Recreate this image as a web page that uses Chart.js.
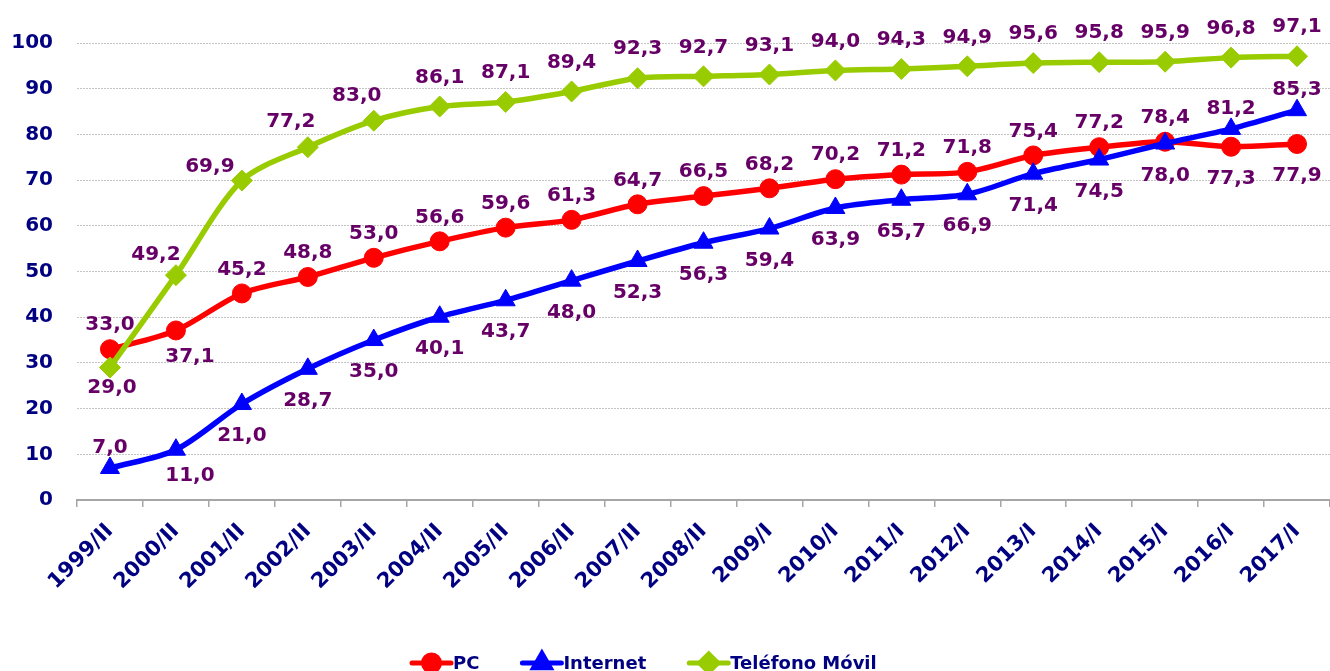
<!DOCTYPE html>
<html>
<head>
<meta charset="utf-8">
<script src="https://cdn.jsdelivr.net/npm/chart.js@4"></script>
<style>
  html, body { margin: 0; padding: 0; background: #fff; }
  #chart { display: block; }
</style>
</head>
<body>
<canvas id="chart" width="1330" height="671"></canvas>
<script>
const categories = ['1999/II','2000/II','2001/II','2002/II','2003/II','2004/II','2005/II','2006/II','2007/II','2008/II',
  '2009/I','2010/I','2011/I','2012/I','2013/I','2014/I','2015/I','2016/I','2017/I'];

const pcValues = [33.0, 37.1, 45.2, 48.8, 53.0, 56.6, 59.6, 61.3, 64.7, 66.5, 68.2, 70.2, 71.2, 71.8, 75.4, 77.2, 78.4, 77.3, 77.9];
const internetValues = [7.0, 11.0, 21.0, 28.7, 35.0, 40.1, 43.7, 48.0, 52.3, 56.3, 59.4, 63.9, 65.7, 66.9, 71.4, 74.5, 78.0, 81.2, 85.3];
const movilValues = [29.0, 49.2, 69.9, 77.2, 83.0, 86.1, 87.1, 89.4, 92.3, 92.7, 93.1, 94.0, 94.3, 94.9, 95.6, 95.8, 95.9, 96.8, 97.1];

const yTicks = [0, 10, 20, 30, 40, 50, 60, 70, 80, 90, 100];

// where each value label sits relative to its point
const pcLabelPos = ['pa','br','pa','pa','pa','pa','pa','pa','pa','pa','pa','pa','pa','pa','pa','pa','pa','b','b'];
const internetLabelPos = ['ia','br','b','b','b','b','b','b','b','b','b','b','b','b','b','b','b','ia','ia'];
const movilLabelPos = ['bs','ul','l','al','al','a','a','a','a','a','a','a','a','a','a','a','a','a','a'];

const LABEL_OFFSETS = {
  a: [0, -29], pa: [0, -24], ia: [0, -20], b: [0, 32], bs: [2, 20],
  br: [14, 26], al: [-17, -25], ul: [-20, -20], l: [-32, -14]
};

const NAVY = '#000080';
const LABEL_COLOR = '#660066';
const FONT = '"DejaVu Sans", Verdana, sans-serif';

const fmt = (v) => v.toFixed(1).replace('.', ',');

const valueLabels = {
  id: 'valueLabels',
  afterDatasetsDraw(chart) {
    const ctx = chart.ctx;
    ctx.save();
    ctx.font = `bold 20px ${FONT}`;
    ctx.fillStyle = LABEL_COLOR;
    ctx.textAlign = 'center';
    ctx.textBaseline = 'middle';
    chart.data.datasets.forEach((ds, i) => {
      const meta = chart.getDatasetMeta(i);
      meta.data.forEach((pt, j) => {
        const off = LABEL_OFFSETS[ds.labelPos[j]];
        ctx.fillText(fmt(ds.data[j]), pt.x + off[0], pt.y + off[1]);
      });
    });
    ctx.restore();
  }
};

const bottomLegend = {
  id: 'bottomLegend',
  afterDraw(chart) {
    const ctx = chart.ctx;
    const y = 663;
    let x = 412;
    ctx.save();
    ctx.font = `bold 18px ${FONT}`;
    ctx.textBaseline = 'middle';
    ctx.textAlign = 'left';
    chart.data.datasets.forEach((ds) => {
      ctx.strokeStyle = ds.borderColor;
      ctx.lineWidth = 5;
      ctx.lineCap = 'round';
      ctx.beginPath();
      ctx.moveTo(x, y);
      ctx.lineTo(x + 39, y);
      ctx.stroke();
      Chart.helpers.drawPoint(ctx, {
        pointStyle: ds.pointStyle, radius: ds.pointRadius - 1.5, rotation: 0, borderWidth: 1
      }, x + 19.5, y);
      ctx.fillStyle = ds.borderColor;
      ctx.fill();
      ctx.fillStyle = NAVY;
      ctx.fillText(ds.label, x + 41, y + 1);
      x += 41 + ctx.measureText(ds.label).width + 43;
    });
    ctx.restore();
  }
};

function series(label, data, color, style, radius, order, labelPos) {
  return {
    label, data, labelPos, order,
    borderColor: color,
    backgroundColor: color,
    borderWidth: 5.5,
    tension: 0.3,
    pointStyle: style,
    pointRadius: radius,
    pointHoverRadius: radius,
    pointBackgroundColor: color,
    pointBorderColor: color,
    pointBorderWidth: 1
  };
}

new Chart(document.getElementById('chart'), {
  type: 'line',
  data: {
    labels: categories,
    datasets: [
      series('PC', pcValues, '#ff0000', 'circle', 9.5, 3, pcLabelPos),
      series('Internet', internetValues, '#0000ff', 'triangle', 11, 2, internetLabelPos),
      series('Teléfono Móvil', movilValues, '#99cc00', 'rectRot', 10.5, 1, movilLabelPos)
    ]
  },
  options: {
    responsive: false,
    animation: false,
    devicePixelRatio: 1,
    layout: { autoPadding: false, padding: { top: 43, right: -3, bottom: 0, left: 0 } },
    plugins: {
      legend: { display: false },
      tooltip: { enabled: false }
    },
    scales: {
      x: {
        offset: true,
        grid: { display: true, drawOnChartArea: false, drawTicks: true, tickLength: 7, offset: true, color: '#a6a6a6', lineWidth: 1.5 },
        border: { display: true, color: '#a6a6a6', width: 2 },
        ticks: {
          color: NAVY, font: { family: FONT, size: 21, weight: 'bold' },
          maxRotation: 45, minRotation: 45, autoSkip: false, padding: 12
        },
        afterFit(s) { s.height = 171; s.paddingRight = 0; }
      },
      y: {
        min: 0, max: 100,
        afterBuildTicks(s) { s.ticks = yTicks.map(v => ({ value: v })); },
        grid: { color: '#c4c4c4', lineWidth: 1, drawTicks: false },
        border: { display: false, dash: [2, 1] },
        ticks: { color: NAVY, font: { family: FONT, size: 20, weight: 'bold' }, padding: 24 },
        afterFit(s) { s.width = 77; }
      }
    }
  },
  plugins: [valueLabels, bottomLegend]
});
</script>
</body>
</html>
